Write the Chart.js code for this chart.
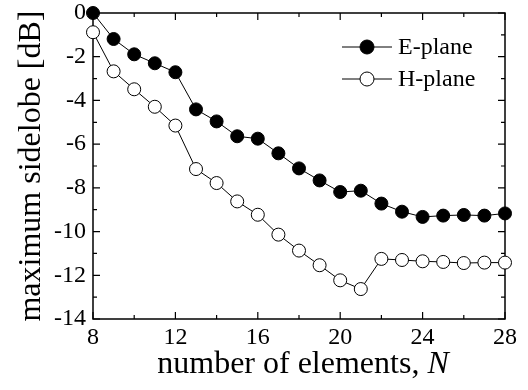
<!DOCTYPE html>
<html>
<head>
<meta charset="utf-8">
<script src="https://cdn.jsdelivr.net/npm/chart.js@4.4.0/dist/chart.umd.min.js"></script>
<style>
html, body { margin: 0; padding: 0; background: #fff; }
#wrap { width: 528px; height: 390px; }
</style>
</head>
<body>
<div id="wrap"><canvas id="chart" width="528" height="390"></canvas></div>
<script>
// number of elements N
var elements = [8, 9, 10, 11, 12, 13, 14, 15, 16, 17, 18, 19, 20, 21, 22, 23, 24, 25, 26, 27, 28];
// maximum sidelobe [dB]
var ePlane = [0, -1.19, -1.89, -2.30, -2.71, -4.41, -4.96, -5.64, -5.75, -6.42, -7.11, -7.66, -8.19, -8.13, -8.72, -9.09, -9.33, -9.27, -9.24, -9.27, -9.17];
var hPlane = [-0.88, -2.67, -3.49, -4.29, -5.15, -7.14, -7.78, -8.62, -9.23, -10.14, -10.87, -11.54, -12.23, -12.63, -11.25, -11.30, -11.36, -11.39, -11.44, -11.42, -11.42];
var xTicks = [8, 12, 16, 20, 24, 28];
var yTicks = [0, -2, -4, -6, -8, -10, -12, -14];
var seriesNames = ['E-plane', 'H-plane'];

var serif = '"Liberation Serif", "Times New Roman", serif';

function points(ys) {
    return elements.map(function(n, i) { return { x: n, y: ys[i] }; });
}

// box round the plot with inward ticks (major + minor) on all 4 sides
var frameTicks = {
    id: 'frameTicks',
    beforeDatasetsDraw: function(chart) {
        var ctx = chart.ctx, a = chart.chartArea;
        var xs = chart.scales.x, ys = chart.scales.y;
        ctx.save();
        ctx.strokeStyle = '#000';
        ctx.lineWidth = 1.5;
        ctx.strokeRect(a.left, a.top, a.right - a.left, a.bottom - a.top);
        ctx.lineWidth = 1.2;
        ctx.beginPath();
        for (var v = xTicks[0]; v <= xTicks[xTicks.length - 1]; v += 2) {
            var len = (v - xTicks[0]) % 4 === 0 ? 7 : 4;
            var px = xs.getPixelForValue(v);
            ctx.moveTo(px, a.bottom); ctx.lineTo(px, a.bottom - len);
            ctx.moveTo(px, a.top); ctx.lineTo(px, a.top + len);
        }
        for (var w = yTicks[yTicks.length - 1]; w <= yTicks[0]; w += 1) {
            var l2 = w % 2 === 0 ? 7 : 4;
            var py = ys.getPixelForValue(w);
            ctx.moveTo(a.left, py); ctx.lineTo(a.left + l2, py);
            ctx.moveTo(a.right, py); ctx.lineTo(a.right - l2, py);
        }
        ctx.stroke();
        ctx.restore();
    }
};

// x title with italic N
var xTitle = {
    id: 'xTitle',
    afterDraw: function(chart) {
        var ctx = chart.ctx, a = chart.chartArea;
        var plain = 'number of elements, ', ital = 'N';
        ctx.save();
        ctx.fillStyle = '#000';
        ctx.textBaseline = 'alphabetic';
        ctx.textAlign = 'left';
        ctx.font = '32px ' + serif;
        var w1 = ctx.measureText(plain).width;
        ctx.font = 'italic 32px ' + serif;
        var w2 = ctx.measureText(ital).width;
        var x = (a.left + a.right) / 2 - (w1 + w2) / 2 + 4;
        var y = 373;
        ctx.font = '32px ' + serif;
        ctx.fillText(plain, x, y);
        ctx.font = 'italic 32px ' + serif;
        ctx.fillText(ital, x + w1, y);
        ctx.restore();
    }
};

// legend: line through marker, like the original
var lineLegend = {
    id: 'lineLegend',
    afterDraw: function(chart) {
        var ctx = chart.ctx, a = chart.chartArea;
        ctx.save();
        chart.data.datasets.forEach(function(ds, i) {
            var y = a.top + 34 + i * 32;
            var x0 = a.left + 249, x1 = a.left + 299;
            ctx.strokeStyle = '#000';
            ctx.lineWidth = 1;
            ctx.beginPath();
            ctx.moveTo(x0, y); ctx.lineTo(x1, y);
            ctx.stroke();
            ctx.beginPath();
            ctx.arc((x0 + x1) / 2, y, 7, 0, Math.PI * 2);
            ctx.fillStyle = ds.pointBackgroundColor;
            ctx.fill();
            ctx.stroke();
            ctx.fillStyle = '#000';
            ctx.font = '24px ' + serif;
            ctx.textBaseline = 'middle';
            ctx.textAlign = 'left';
            ctx.fillText(ds.label, x1 + 6, y + 1);
        });
        ctx.restore();
    }
};

var ctx = document.getElementById('chart').getContext('2d');
var chart = new Chart(ctx, {
    type: 'scatter',
    data: {
        datasets: [{
            label: seriesNames[0],
            data: points(ePlane),
            showLine: true,
            borderColor: '#000',
            borderWidth: 1,
            pointRadius: 6.5,
            pointBackgroundColor: '#000',
            pointBorderColor: '#000',
            pointBorderWidth: 1,
            clip: false
        }, {
            label: seriesNames[1],
            data: points(hPlane),
            showLine: true,
            borderColor: '#000',
            borderWidth: 1,
            pointRadius: 6.5,
            pointBackgroundColor: '#fff',
            pointBorderColor: '#000',
            pointBorderWidth: 1,
            clip: false
        }]
    },
    options: {
        responsive: false,
        animation: false,
        devicePixelRatio: 1,
        layout: { padding: { top: 13, right: 23, left: 0, bottom: 0 } },
        plugins: {
            legend: { display: false },
            tooltip: { enabled: false }
        },
        scales: {
            x: {
                type: 'linear',
                min: xTicks[0],
                max: xTicks[xTicks.length - 1],
                grid: { display: false, drawTicks: false },
                border: { display: false },
                afterBuildTicks: function(s) { s.ticks = xTicks.map(function(v) { return { value: v }; }); },
                afterFit: function(s) { s.height = 71; s.paddingLeft = 0; s.paddingRight = 0; },
                ticks: {
                    color: '#000',
                    padding: 4,
                    maxRotation: 0,
                    font: { family: serif, size: 24 }
                },
                title: { display: false }
            },
            y: {
                type: 'linear',
                min: yTicks[yTicks.length - 1],
                max: yTicks[0],
                grid: { display: false, drawTicks: false },
                border: { display: false },
                afterBuildTicks: function(s) { s.ticks = yTicks.map(function(v) { return { value: v }; }).reverse(); },
                afterFit: function(s) { s.width = 93; s.paddingTop = 0; s.paddingBottom = 0; },
                ticks: {
                    color: '#000',
                    padding: 7,
                    font: { family: serif, size: 24 }
                },
                title: {
                    display: true,
                    text: 'maximum sidelobe [dB]',
                    color: '#000',
                    padding: { top: 12, bottom: 0 },
                    font: { family: serif, size: 32 }
                }
            }
        }
    },
    plugins: [frameTicks, xTitle, lineLegend]
});
</script>
</body>
</html>
